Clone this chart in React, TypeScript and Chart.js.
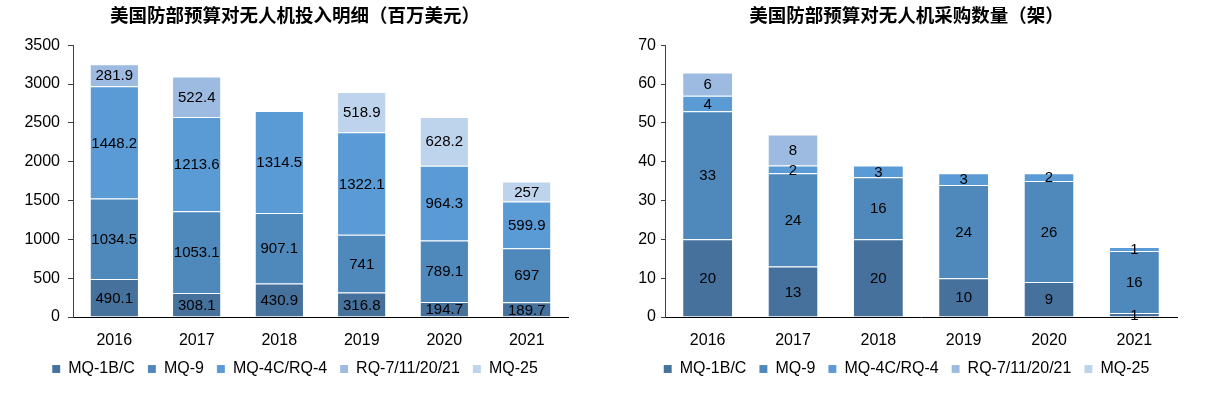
import React, { useEffect, useRef } from 'react';
import { Chart, registerables } from 'chart.js';

Chart.register(...registerables);

const years = ['2016', '2017', '2018', '2019', '2020', '2021'];
const seriesNames = ['MQ-1B/C', 'MQ-9', 'MQ-4C/RQ-4', 'RQ-7/11/20/21', 'MQ-25'];
const seriesColors = ['#45719C', '#4F88BB', '#5B9BD5', '#9DBBE1', '#BED3EC'];

const leftTitle = '美国防部预算对无人机投入明细（百万美元）';
const rightTitle = '美国防部预算对无人机采购数量（架）';

// 投入 (百万美元)
const budgetMQ1 = [490.1, 308.1, 430.9, 316.8, 194.7, 189.7];
const budgetMQ9 = [1034.5, 1053.1, 907.1, 741, 789.1, 697];
const budgetMQ4 = [1448.2, 1213.6, 1314.5, 1322.1, 964.3, 599.9];
const budgetRQ = [281.9, 522.4, null, null, null, null];
const budgetMQ25 = [null, null, null, 518.9, 628.2, 257];

// 采购数量 (架)
const qtyMQ1 = [20, 13, 20, 10, 9, 1];
const qtyMQ9 = [33, 24, 16, 24, 26, 16];
const qtyMQ4 = [4, 2, 3, 3, 2, 1];
const qtyRQ = [6, 8, null, null, null, null];
const qtyMQ25 = [null, null, null, null, null, null];

const budgetTicks = { max: 3500, step: 500 };
const qtyTicks = { max: 70, step: 10 };

const FONT = '"Liberation Sans", Arial, sans-serif';

const segLabels = {
  id: 'segLabels',
  afterDatasetsDraw(chart: any) {
    const ctx = chart.ctx;
    ctx.save();
    ctx.font = `15px ${FONT}`;
    ctx.fillStyle = '#000';
    ctx.textAlign = 'center';
    ctx.textBaseline = 'middle';
    chart.data.datasets.forEach((ds: any, i: number) => {
      const meta = chart.getDatasetMeta(i);
      if (meta.hidden) return;
      meta.data.forEach((el: any, j: number) => {
        const v = ds.data[j];
        if (v == null) return;
        const p = el.getProps(['x', 'y', 'base'], true);
        ctx.fillText(String(v), p.x, (p.y + p.base) / 2 + 1);
      });
    });
    ctx.restore();
  },
};

type Props = {
  width: number;
  height: number;
  title: string;
  series: (number | null)[][];
  yMax: number;
  yStep: number;
  padLeft: number;
  padRight: number;
  yWidth: number;
  tickLen: number;
  tickPad: number;
};

function StackChart(props: Props) {
  const ref = useRef<HTMLCanvasElement>(null);
  useEffect(() => {
    if (!ref.current) return;
    const chart = new Chart(ref.current, {
      type: 'bar',
      data: {
        labels: years,
        datasets: props.series.map((d, i) => ({
          label: seriesNames[i],
          data: d,
          backgroundColor: seriesColors[i],
          borderColor: 'rgba(255,255,255,0.35)',
          borderWidth: { top: 1, left: 0, right: 0, bottom: 0 },
          borderSkipped: false,
          categoryPercentage: 1,
          barPercentage: 0.575,
        })),
      },
      options: {
        responsive: false,
        animation: false,
        layout: { padding: { left: props.padLeft, right: props.padRight, top: 0, bottom: 10 } },
        plugins: {
          title: {
            display: true,
            text: props.title,
            color: '#000',
            font: { family: '"Noto Sans CJK SC", sans-serif', size: 18.5, weight: 'bold' },
            padding: { top: 4, bottom: 19 },
          },
          legend: {
            position: 'bottom',
            labels: {
              boxWidth: 8,
              boxHeight: 8,
              padding: 13,
              color: '#000',
              font: { family: FONT, size: 16 },
            },
          },
          tooltip: { enabled: false },
        },
        scales: {
          x: {
            stacked: true,
            grid: { display: false },
            border: { display: true, color: '#000', width: 1 },
            ticks: { color: '#000', font: { family: FONT, size: 16 }, padding: 5.5 },
            afterFit: (s: any) => { s.height = 31; },
          },
          y: {
            stacked: true,
            min: 0,
            max: props.yMax,
            grid: { drawOnChartArea: false, drawTicks: true, tickLength: props.tickLen, color: '#404040' },
            border: { display: true, color: '#404040', width: 1 },
            ticks: {
              stepSize: props.yStep,
              color: '#000',
              font: { family: FONT, size: 16 },
              padding: props.tickPad,
              callback: (v: any) => String(v),
            },
            afterFit: (s: any) => { s.width = props.yWidth; },
          },
        },
      },
      plugins: [segLabels],
    } as any);
    return () => chart.destroy();
  }, []);
  return <canvas ref={ref} width={props.width} height={props.height} style={{ display: 'block' }} />;
}

export default function App() {
  return (
    <div style={{ position: 'fixed', left: 0, top: 0, width: 1207, height: 397, background: '#fff' }}>
      <div style={{ position: 'absolute', left: 0, top: 0 }}>
        <StackChart
          width={600}
          height={397}
          title={leftTitle}
          series={[budgetMQ1, budgetMQ9, budgetMQ4, budgetRQ, budgetMQ25]}
          yMax={budgetTicks.max}
          yStep={budgetTicks.step}
          padLeft={22}
          padRight={32}
          yWidth={51}
          tickLen={5}
          tickPad={8}
        />
      </div>
      <div style={{ position: 'absolute', left: 600, top: 0 }}>
        <StackChart
          width={607}
          height={397}
          title={rightTitle}
          series={[qtyMQ1, qtyMQ9, qtyMQ4, qtyRQ, qtyMQ25]}
          yMax={qtyTicks.max}
          yStep={qtyTicks.step}
          padLeft={36}
          padRight={30}
          yWidth={29}
          tickLen={4}
          tickPad={5}
        />
      </div>
    </div>
  );
}
